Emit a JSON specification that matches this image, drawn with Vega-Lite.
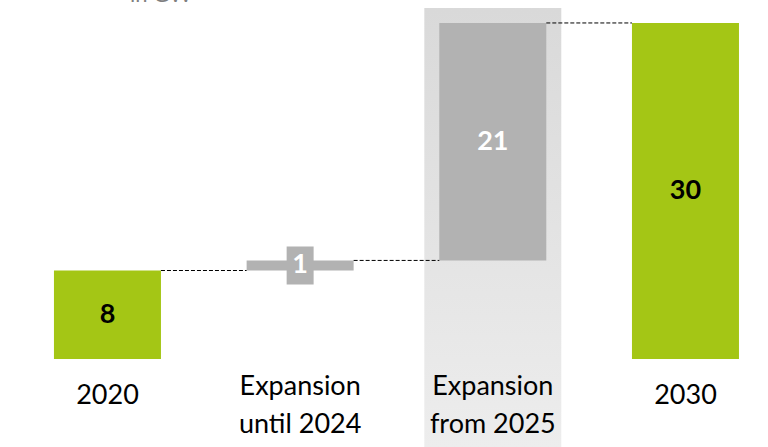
{
  "$schema": "https://vega.github.io/schema/vega-lite/v6.json",
  "width": 761,
  "height": 359,
  "autosize": "none",
  "padding": {"left": 7, "top": 0, "right": 0, "bottom": 88},
  "background": "white",
  "config": {"view": {"stroke": null}, "font": "Lato"},
  "title": {"text": "in GW", "anchor": "start", "frame": "group", "dx": 123, "dy": 14, "offset": -10, "baseline": "alphabetic", "font": "Lato", "fontSize": 22, "fontWeight": "normal", "color": "#7f7f7f"},
  "data": {"values": [
    {"cat": "2020", "start": 0, "end": 7.9, "value": 7.9, "kind": "total", "next": "Expansion until 2024"},
    {"cat": "Expansion until 2024", "start": 7.9, "end": 8.8, "value": 0.9, "kind": "delta", "next": "Expansion from 2025"},
    {"cat": "Expansion from 2025", "start": 8.8, "end": 30, "value": 21.2, "kind": "delta", "next": "2030"},
    {"cat": "2030", "start": 0, "end": 30, "value": 30, "kind": "total", "next": null}
  ]},
  "encoding": {
    "x": {
      "field": "cat", "type": "nominal", "sort": null,
      "scale": {"domain": ["2020", "Expansion until 2024", "Expansion from 2025", "2030"], "paddingInner": 0.4446, "paddingOuter": 0.1972, "align": 0.618},
      "axis": {
        "zindex": 1,
        "domain": false, "ticks": false, "grid": false, "title": null, "labelAngle": 0,
        "labelFont": "Lato", "labelFontSize": 27, "labelColor": "#000000",
        "labelLineHeight": 38, "labelBaseline": "alphabetic", "labelOverlap": false, "labelLimit": 0,
        "labelPadding": {"condition": {"test": "indexof(datum.value, 'Expansion') == 0", "value": 35}, "value": 44},
        "labelExpr": "indexof(datum.label, 'Expansion') == 0 ? ['Expansion', substring(datum.label, 10)] : datum.label"
      }
    }
  },
  "layer": [
    {
      "data": {"values": [{}]},
      "mark": {"type": "bar", "width": {"band": 1.28}, "color": {"gradient": "linear", "x1": 0, "y1": 0, "x2": 0, "y2": 1, "stops": [{"offset": 0, "color": "#d9d9d9"}, {"offset": 1, "color": "#ededed"}]}},
      "encoding": {
        "x": {"datum": "Expansion from 2025", "type": "nominal"},
        "y": {"datum": 31.34, "type": "quantitative", "scale": {"domain": [0, 32.05]}, "axis": null},
        "y2": {"datum": -7.9}
      }
    },
    {
      "mark": {"type": "bar"},
      "encoding": {
        "y": {"field": "end", "type": "quantitative", "scale": {"domain": [0, 32.05]}, "axis": null},
        "y2": {"field": "start"},
        "color": {"field": "kind", "type": "nominal", "scale": {"domain": ["total", "delta"], "range": ["#a4c615", "#b2b2b2"]}, "legend": null}
      }
    },
    {
      "transform": [{"filter": "datum.next != null"}],
      "mark": {"type": "rule", "xOffset": 53.5, "x2Offset": -53.5, "strokeDash": [4, 2], "color": "#000000", "strokeWidth": 1},
      "encoding": {
        "x2": {"field": "next"},
        "y": {"field": "end", "type": "quantitative", "scale": {"domain": [0, 32.05]}, "axis": null}
      }
    },
    {
      "transform": [{"filter": "datum.cat == 'Expansion until 2024'"}, {"calculate": "(datum.start + datum.end) / 2", "as": "mid"}],
      "mark": {"type": "point", "shape": "M-0.71,-1H0.71V1H-0.71Z", "size": 1444, "filled": true, "opacity": 1, "fill": "#b2b2b2", "fillOpacity": 1, "strokeWidth": 0},
      "encoding": {
        "y": {"field": "mid", "type": "quantitative", "scale": {"domain": [0, 32.05]}, "axis": null}
      }
    },
    {
      "transform": [{"calculate": "(datum.start + datum.end) / 2", "as": "mid"}],
      "mark": {"type": "text", "font": "Lato", "fontSize": 27, "fontWeight": "bold", "baseline": "middle", "align": "center"},
      "encoding": {
        "y": {"field": "mid", "type": "quantitative", "scale": {"domain": [0, 32.05]}, "axis": null},
        "text": {"field": "value", "type": "quantitative", "format": ".0f"},
        "color": {"condition": {"test": "datum.kind == 'total'", "value": "#000000"}, "value": "#ffffff"}
      }
    },
    {
      "data": {"values": [{}]},
      "mark": {"type": "rule", "color": "#000000", "strokeWidth": 2},
      "encoding": {
        "y": {"datum": 0, "type": "quantitative", "scale": {"domain": [0, 32.05]}, "axis": null}
      }
    }
  ]
}
